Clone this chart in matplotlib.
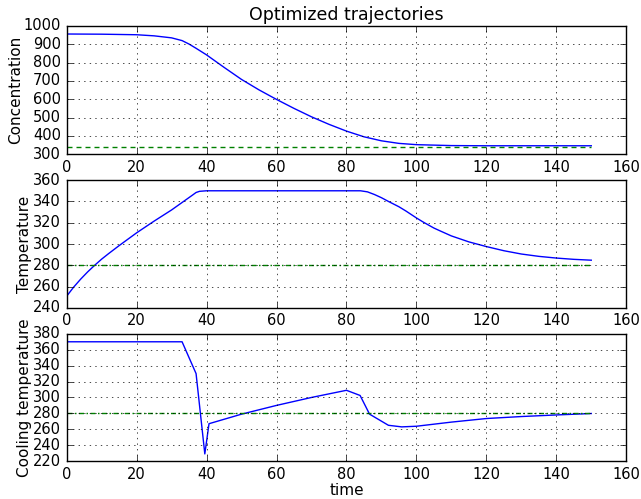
import numpy as np
import matplotlib
matplotlib.use("Agg")
import matplotlib.pyplot as plt

plt.style.use("classic")

# concentration trajectory
t_conc = [0, 10, 20, 25, 30, 33, 35, 37, 40, 45, 50, 55, 60, 65, 70, 75, 80, 85, 90, 95, 100, 110, 120, 130, 140, 150]
conc = [956, 955, 952, 946, 935, 920, 901, 878, 842, 774, 708, 651, 599, 550, 504, 463, 426, 395, 373, 359, 352, 347, 346, 346, 346, 346]
conc_ref = 340

# reactor temperature
t_temp = [0, 2, 4, 6, 8, 10, 12, 15, 20, 25, 30, 33, 36, 37, 38, 40, 50, 60, 70, 80, 84, 86, 88, 90, 92, 95, 97, 100,
          102, 105, 107, 110, 115, 120, 125, 130, 135, 140, 145, 150]
temp = [251, 259.5, 267, 273.8, 280, 285.8, 291, 298.5, 310.5, 321.5, 332, 339, 346, 348.4, 349.5, 350, 350, 350, 350, 350,
        350, 349, 346.5, 343.5, 340, 335, 331, 324.5, 320.5, 315, 312, 307.6, 302, 297.6, 293.7, 290.6, 288.4, 286.8, 285.6, 284.8]
temp_ref = 280

# cooling temperature (control)
t_cool = [0, 33, 37, 39.5, 40.7, 50, 60, 70, 80, 83.9, 86.6, 92, 95.8, 100, 110, 120, 130, 140, 150]
cool = [370, 370, 330, 229, 267, 279, 290, 300, 309, 302.5, 279, 265, 263, 263.8, 269, 273.5, 276, 278, 279.8]
cool_ref = 280

t_end = 150

plt.rcParams["font.size"] = 10.5
plt.rcParams["axes.labelsize"] = 11
plt.rcParams["axes.titlesize"] = 12.5
px = 0.72  # points per pixel at 100 dpi
dashed = (5 * px, 4 * px)
dashdot = (5 * px, 2.5 * px, 1.5 * px, 2.5 * px)

fig = plt.figure(figsize=(6.41, 4.99), dpi=100)

ax1 = fig.add_axes([0.104, 0.691, 0.873, 0.257])
ax1.plot(t_conc, conc, "b-")
ax1.plot([0, t_end], [conc_ref, conc_ref], "g--", dashes=dashed)
ax1.set_xlim(0, 160)
ax1.set_ylim(300, 1000)
ax1.set_ylabel("Concentration", labelpad=0.5)
ax1.set_title("Optimized trajectories", pad=4)
ax1.grid(True)

ax2 = fig.add_axes([0.104, 0.383, 0.873, 0.256])
ax2.plot(t_temp, temp, "b-")
ax2.plot([0, t_end], [temp_ref, temp_ref], "g-.", dashes=dashdot)
ax2.set_xlim(0, 160)
ax2.set_ylim(240, 360)
ax2.set_ylabel("Temperature", labelpad=0.5)
ax2.grid(True)

ax3 = fig.add_axes([0.104, 0.076, 0.873, 0.255])
ax3.plot(t_cool, cool, "b-")
ax3.plot([0, t_end], [cool_ref, cool_ref], "g-.", dashes=dashdot)
ax3.set_xlim(0, 160)
ax3.set_ylim(220, 380)
ax3.set_yticks(np.arange(220, 381, 20))
ax3.set_ylabel("Cooling temperature", labelpad=0.5)
ax3.set_xlabel("time", labelpad=1)
ax3.grid(True)

fig.savefig("out.png", dpi=100)
